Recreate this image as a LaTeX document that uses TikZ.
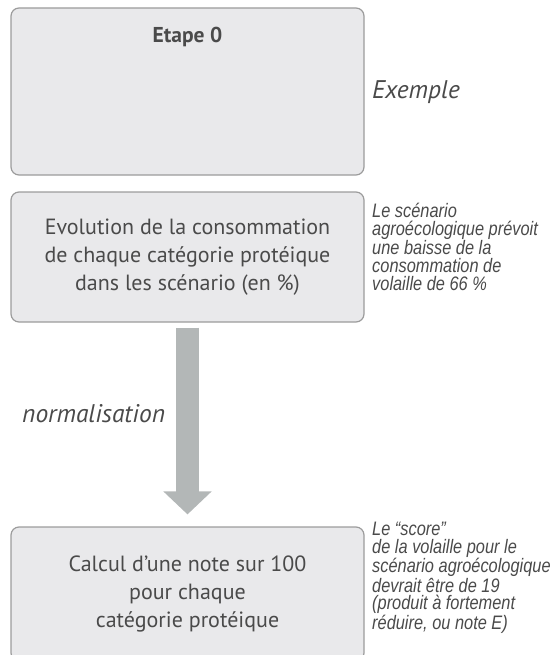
\documentclass[tikz,border=0pt]{standalone}
\usepackage{fontspec}
\setmainfont{PT Sans}
\newfontfamily\notefont[FakeStretch=0.84]{Liberation Sans}
\usetikzlibrary{arrows.meta,positioning}
\definecolor{boxgray}{HTML}{E9E9EB}
\definecolor{linegray}{HTML}{9C9C9C}
\definecolor{txtgray}{HTML}{4A4A4A}
\definecolor{arrowgray}{HTML}{B3B7B7}

\begin{document}
\begin{tikzpicture}[x=1pt,y=-1pt,
  etape/.style={draw=linegray,fill=boxgray,line width=1.2pt,rounded corners=8pt,
    minimum width=353pt,align=center,text=txtgray,
    font=\fontsize{22}{28}\selectfont},
  remarque/.style={anchor=north west,align=left,inner sep=0pt,text=txtgray,
    font=\notefont\itshape\fontsize{19.5}{17.8}\selectfont},
  fleche/.style={draw=arrowgray,line width=23pt,
    -{Triangle[width=47pt,length=23pt]}}]
  \clip (0,0) rectangle (557,655);
  \useasboundingbox (0,0) rectangle (557,655);
  % les trois etapes
  \node[etape,minimum height=167pt] (etape0) at (187.5,91.5) {};
  \node[text=txtgray,font=\bfseries\fontsize{21.5}{24}\selectfont,anchor=center] (titre) at (187.5,37) {Etape 0};
  \node[etape,minimum height=130pt] (evol) at (187.5,257)
    {Evolution de la consommation\\de chaque catégorie protéique\\dans les scénario (en \%)};
  \node[etape,minimum height=134pt] (calcul) at (187.5,594)
    {Calcul d'une note sur 100\\pour chaque\\catégorie protéique};
  % fleche de normalisation
  \draw[fleche,shorten <=5pt,shorten >=12pt] (evol.south) -- (calcul.north);
  \node[text=txtgray,font=\itshape\fontsize{25.5}{28}\selectfont,anchor=west,inner sep=0pt] (norm) at (22,414) {normalisation};
  % exemple
  \node[text=txtgray,font=\itshape\fontsize{25.5}{28}\selectfont,anchor=west,inner sep=0pt] (exemple) at (372,92) {Exemple};
  \node[remarque] (rem1) at (372,203)
    {Le scénario\\agroécologique prévoit\\une baisse de la\\consommation de\\volaille de 66 \%};
  \node[remarque] (rem2) at (372,522)
    {Le “score”\\de la volaille pour le\\scénario agroécologique\\devrait être de 19\\(produit à fortement\\réduire, ou note E)};
\end{tikzpicture}
\end{document}
